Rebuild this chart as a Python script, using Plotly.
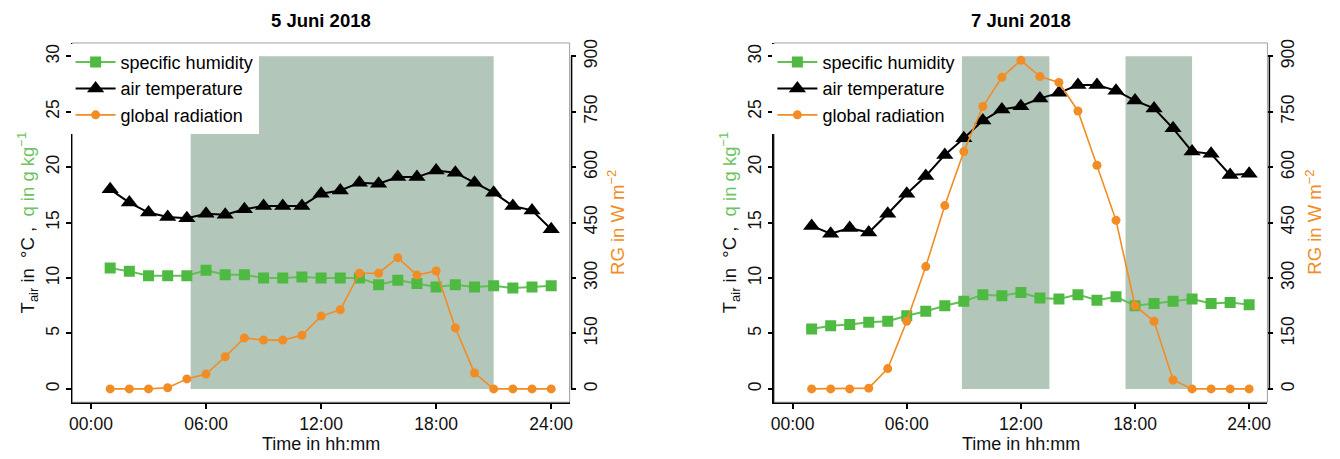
import plotly.graph_objects as go

# ---------------- data ----------------
hours = list(range(1, 25))
tick_vals = [0, 6, 12, 18, 24]
tick_text = ["00:00", "06:00", "12:00", "18:00", "24:00"]
left_ticks = [0, 5, 10, 15, 20, 25, 30]
right_ticks = [0, 150, 300, 450, 600, 750, 900]

tair_5 = [18.0, 16.8, 15.9, 15.5, 15.4, 15.8, 15.7, 16.2, 16.5, 16.5, 16.5, 17.6,
          17.9, 18.6, 18.5, 19.1, 19.1, 19.7, 19.5, 18.6, 17.7, 16.5, 16.1, 14.4]
q_5 = [10.9, 10.6, 10.2, 10.2, 10.2, 10.7, 10.3, 10.3, 10.0, 10.0, 10.1, 10.0,
       10.0, 10.0, 9.4, 9.8, 9.5, 9.2, 9.4, 9.2, 9.3, 9.1, 9.2, 9.3]
rg_5 = [0, 0, 0, 3, 27, 40, 87, 138, 132, 132, 145, 197,
        214, 313, 313, 355, 308, 319, 165, 43, 0, 0, 0, 0]

tair_7 = [14.7, 14.0, 14.5, 14.1, 15.8, 17.6, 19.2, 21.1, 22.6, 24.2, 25.2, 25.5,
          26.2, 26.7, 27.4, 27.4, 26.9, 26.0, 25.3, 23.5, 21.4, 21.2, 19.3, 19.4]
q_7 = [5.4, 5.7, 5.8, 6.0, 6.1, 6.6, 7.0, 7.5, 7.9, 8.5, 8.4, 8.7,
       8.2, 8.1, 8.5, 8.0, 8.3, 7.5, 7.7, 7.9, 8.1, 7.7, 7.8, 7.6]
rg_7 = [0, 0, 0, 2, 55, 183, 331, 496, 642, 764, 843, 889,
        845, 829, 752, 605, 456, 225, 183, 24, 0, 0, 0, 0]

shade_5 = [(5.2, 21.0)]
shade_7 = [(8.9, 13.5), (17.5, 21.0)]
titles = ["5 Juni 2018", "7 Juni 2018"]

# ---------------- style ----------------
W, H = 1340, 459
FONT = "Liberation Sans, Arial, sans-serif"
GREEN = "#4fba42"
GREEN_LINE = "#62c055"
GREEN_TXT = "#6dc35e"
ORANGE = "#f28c24"
SHADE = "#b2c6b9"
BOX = "#a0a0a0"

px_top, px_bot = 39.3, 401.7
panels = [(69, 569), (775, 1271)]
ydom = [(H - px_bot) / H, (H - px_top) / H]
ymid = (ydom[0] + ydom[1]) / 2

fig = go.Figure()

datasets = [(q_5, tair_5, rg_5, shade_5), (q_7, tair_7, rg_7, shade_7)]
for i, (q, t, rg, shades) in enumerate(datasets):
    xa = "x" if i == 0 else "x2"
    yl = "y" if i == 0 else "y3"
    yr = "y2" if i == 0 else "y4"
    leg = "legend" if i == 0 else "legend2"
    fig.add_trace(go.Scatter(x=hours, y=q, xaxis=xa, yaxis=yl, mode="lines+markers",
                             name="specific humidity", legend=leg,
                             line=dict(color=GREEN_LINE, width=2),
                             marker=dict(symbol="square", size=11, color=GREEN)))
    fig.add_trace(go.Scatter(x=hours, y=t, xaxis=xa, yaxis=yl, mode="lines+markers",
                             name="air temperature", legend=leg,
                             line=dict(color="black", width=2),
                             marker=dict(symbol="triangle-up", size=15, color="black")))
    fig.add_trace(go.Scatter(x=hours, y=rg, xaxis=xa, yaxis=yr, mode="lines+markers",
                             name="global radiation", legend=leg,
                             line=dict(color=ORANGE, width=1.6),
                             marker=dict(symbol="circle", size=9, color=ORANGE)))
    for (a, b) in shades:
        fig.add_shape(type="rect", xref=xa, yref=yl, x0=a, x1=b, y0=0, y1=30,
                      fillcolor=SHADE, line=dict(width=0), layer="below")
    xdom_ref = xa + " domain"
    ydom_ref = yl + " domain"
    # grey box
    fig.add_shape(type="rect", xref=xdom_ref, yref=ydom_ref, x0=0, x1=1, y0=0, y1=1,
                  line=dict(color=BOX, width=1), layer="above")
    # right axis line (0..900)
    fig.add_shape(type="line", xref=xdom_ref, yref=yr, x0=1.004, x1=1.004, y0=0, y1=900,
                  line=dict(color="black", width=1.5), layer="above")
    x0p, x1p = panels[i]
    cx = (x0p + x1p) / 2 / W
    fig.add_annotation(text="<b>%s</b>" % titles[i], x=cx, y=(H - 17) / H, xref="paper", yref="paper",
                       xanchor="center", yanchor="middle",
                       showarrow=False, font=dict(size=18.5, color="black", family=FONT))
    fig.add_annotation(text="Time in hh:mm", x=cx, y=(H - 444) / H, xref="paper", yref="paper",
                       xanchor="center", yanchor="middle",
                       showarrow=False, font=dict(size=18, color="#111", family=FONT))
    fig.add_annotation(text="T<sub>air</sub> in  °C ,  <span style='color:%s'>q in g kg<sup>−1</sup></span>" % GREEN_TXT,
                       x=(x0p - 45) / W, y=ymid, xref="paper", yref="paper",
                       xanchor="center", yanchor="middle",
                       textangle=-90, showarrow=False, font=dict(size=18.5, color="#111", family=FONT))
    fig.add_annotation(text="RG in W m<sup>−2</sup>",
                       x=(x1p + 46) / W, y=ymid, xref="paper", yref="paper",
                       xanchor="center", yanchor="middle",
                       textangle=-90, showarrow=False, font=dict(size=18.5, color=ORANGE, family=FONT))

tickfont = dict(size=17.5, color="#111", family=FONT)
xcommon = dict(range=[-0.96, 24.96], tickvals=tick_vals, ticktext=tick_text, ticks="outside",
               ticklen=5, tickwidth=1.5, tickcolor="black", showgrid=False, zeroline=False,
               showline=True, linecolor="black", linewidth=1.5, tickfont=tickfont, fixedrange=True)
ycommon = dict(range=[-1.2, 31.2], tickvals=left_ticks, ticks="outside", ticklen=5, tickwidth=1.5,
               tickcolor="black", showgrid=False, zeroline=False, showline=True, linecolor="black",
               linewidth=1.5, tickfont=tickfont, tickangle=-90)
y2common = dict(range=[-36, 936], tickvals=right_ticks, ticks="outside", ticklen=5, tickwidth=1.5,
                tickcolor="black", showgrid=False, zeroline=False, showline=False,
                tickfont=tickfont, tickangle=-90, side="right")

legfont = dict(size=18, color="black", family=FONT)
fig.update_layout(
    width=W, height=H, margin=dict(l=0, r=0, t=0, b=0),
    paper_bgcolor="white", plot_bgcolor="white",
    font=dict(family=FONT, size=17, color="black"),
    xaxis=dict(domain=[panels[0][0] / W, panels[0][1] / W], anchor="y", **xcommon),
    yaxis=dict(domain=ydom, anchor="x", **ycommon),
    yaxis2=dict(overlaying="y", anchor="x", **y2common),
    xaxis2=dict(domain=[panels[1][0] / W, panels[1][1] / W], anchor="y3", **xcommon),
    yaxis3=dict(domain=ydom, anchor="x2", **ycommon),
    yaxis4=dict(overlaying="y3", anchor="x2", **y2common),
    legend=dict(x=(panels[0][0] - 2) / W, y=ydom[1] - 0.002, xanchor="left", yanchor="top",
                bgcolor="white", borderwidth=0, font=legfont, itemwidth=40, tracegroupgap=0),
    legend2=dict(x=(panels[1][0] - 2) / W, y=ydom[1] - 0.002, xanchor="left", yanchor="top",
                 bgcolor="white", borderwidth=0, font=legfont, itemwidth=40, tracegroupgap=0),
    showlegend=True,
)

fig.write_html("out.html")
